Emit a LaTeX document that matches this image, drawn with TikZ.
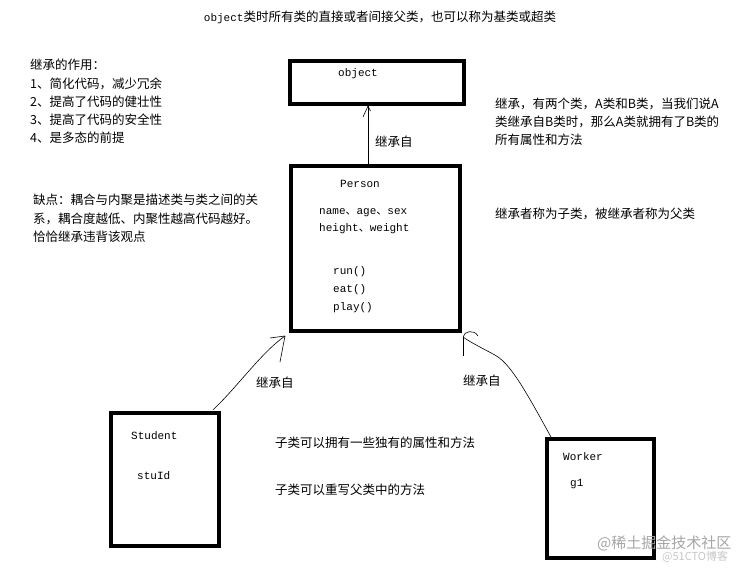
\documentclass[tikz,border=0pt]{standalone}
\usepackage{fontspec}
\setmainfont{Noto Sans CJK SC}
\newfontfamily\mono{Liberation Mono}
\newfontfamily\cjk{Noto Sans CJK SC}
\begin{document}
\begin{tikzpicture}[x=1pt,y=-1pt,
  txt/.style={anchor=west,inner sep=0pt,font=\fontsize{12.5}{14}\selectfont},
  code/.style={anchor=west,inner sep=0pt,font=\mono\fontsize{11}{13}\selectfont},
  classbox/.style={draw,line width=4pt,inner sep=0pt},
  link/.style={line width=0.6pt},
  wm/.style={anchor=west,inner sep=0pt,text=black!35},
]
\useasboundingbox[fill=white] (0,0) rectangle (754,569);

% title
\node[inner sep=0pt,font=\fontsize{12.5}{14}\selectfont] (title) at (380,17) {{\mono\fontsize{11}{13}\selectfont object}类时所有类的直接或者间接父类，也可以称为基类或超类};

% class boxes
\node[classbox,minimum width=174pt,minimum height=43pt] (object) at (377,82.5) {};
\node[classbox,minimum width=169pt,minimum height=165pt] (person) at (375.5,248.5) {};
\node[classbox,minimum width=108pt,minimum height=133pt] (student) at (165,479.5) {};
\node[classbox,minimum width=107pt,minimum height=119pt] (worker) at (600.5,498.5) {};

% box contents
\node[code] (tobj) at (338,74) {object};
\node[code] (tper) at (340,184) {Person};
\node[code] (tattr1) at (319,213) {name{\cjk 、}age{\cjk 、}sex};
\node[code] (tattr2) at (319,229) {height{\cjk 、}weight};
\node[code] (trun) at (333,272) {run()};
\node[code] (teat) at (333,290) {eat()};
\node[code] (tplay) at (333,308) {play()};
\node[code] (tstu) at (131,436) {Student};
\node[code] (tstuid) at (137,476) {stuId};
\node[code] (twork) at (563,457) {Worker};
\node[code] (tg1) at (570,484) {g1};

% left notes
\node[txt] (n1) at (30,65) {继承的作用：};
\node[txt] (n2) at (30,84) {1、简化代码，减少冗余};
\node[txt] (n3) at (30,102) {2、提高了代码的健壮性};
\node[txt] (n4) at (30,120) {3、提高了代码的安全性};
\node[txt] (n5) at (30,138) {4、是多态的前提};
\node[txt] (d1) at (33,200) {缺点：耦合与内聚是描述类与类之间的关};
\node[txt] (d2) at (33,219) {系，耦合度越低、内聚性越高代码越好。};
\node[txt] (d3) at (33,237) {恰恰继承违背该观点};

% right notes
\node[txt] (r1) at (495,104) {继承，有两个类，A类和B类，当我们说A};
\node[txt] (r2) at (495,122) {类继承自B类时，那么A类就拥有了B类的};
\node[txt] (r3) at (495,140) {所有属性和方法};
\node[txt] (r4) at (495,214) {继承者称为子类，被继承者称为父类};

% middle notes
\node[txt] (m1) at (275,443) {子类可以拥有一些独有的属性和方法};
\node[txt] (m2) at (275,490) {子类可以重写父类中的方法};

% connector: Person -> object
\coordinate (objx) at (368,0);
\draw[link] (objx |- person.north) -- (objx |- object.south) coordinate (otip);
\draw[link] (otip) -- ++(-5,11);
\draw[link] (otip) -- ++(2.5,5);
\node[txt] (l1) at (375,142) {继承自};

% connector: Student -> Person
\coordinate (stip) at (213,410);
\coordinate (ptipL) at (285,336);
\draw[link] (stip) .. controls (238,386) and (262,352) .. (ptipL);
\draw[link] (ptipL) -- (270,338);
\draw[link] (ptipL) -- (280,362);
\node[txt] (l2) at (256,383) {继承自};

% connector: Worker -> Person
\coordinate (wtip) at (551,437);
\coordinate (ptipR) at (463,337);
\draw[link] (wtip) .. controls (525,390) and (510,362) .. (493,354) .. controls (480,347) and (470,342) .. (ptipR);
\draw[link] (ptipR) -- (463,356);
\draw[link] (ptipR) .. controls (464,331) and (474,329) .. (478,336);
\node[txt] (l3) at (463,381) {继承自};

% watermark
\node[wm,font=\fontsize{15}{16}\selectfont] (wm1) at (597,543) {@稀土掘金技术社区};
\node[wm,font=\fontsize{11}{12}\selectfont,text=black!22] (wm2) at (662,557) {@51CTO博客};
\end{tikzpicture}
\end{document}
